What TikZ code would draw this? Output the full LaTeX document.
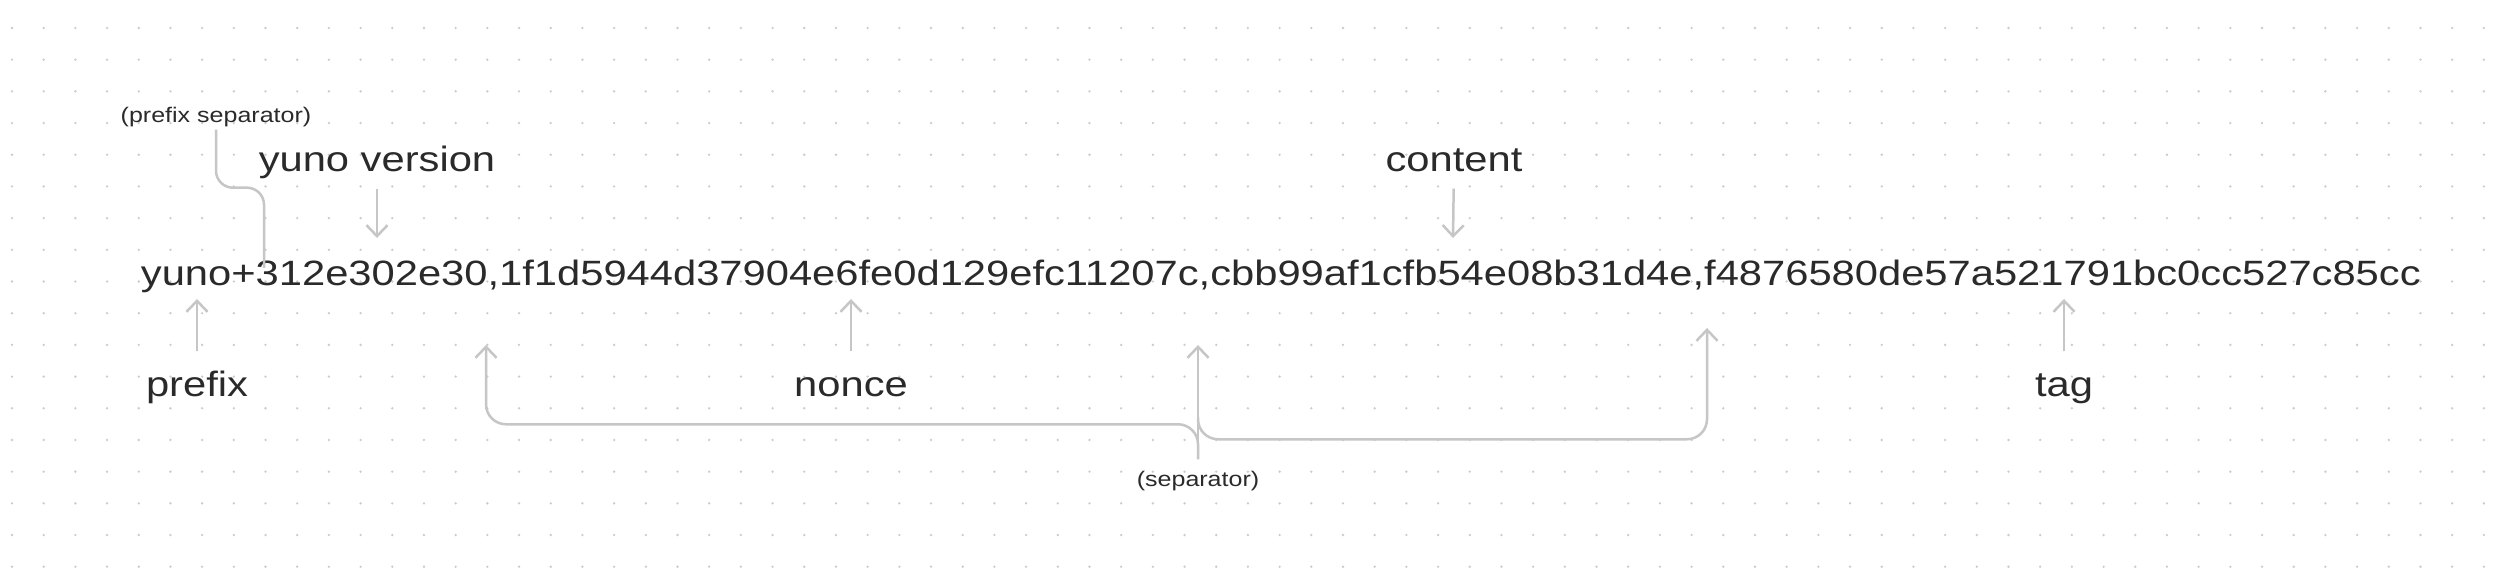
\documentclass[tikz,border=0pt]{standalone}
\usepackage{fontspec}
\setmainfont{Liberation Sans}[FakeStretch=1.186]
\usetikzlibrary{arrows.meta}
\definecolor{ink}{HTML}{2A2A2A}
\definecolor{linegray}{HTML}{C6C6C6}
\definecolor{gridgray}{HTML}{CCCCCC}
\begin{document}
\begin{tikzpicture}[x=0.01cm,y=-0.01cm,
        part/.style={text=ink,font=\fontsize{10}{12}\selectfont,text height=2.6mm,text depth=0.9mm,inner sep=0.7mm},
        lowpart/.style={part,inner ysep=1.9mm},
        note/.style={text=ink,font=\fontsize{6}{7}\selectfont,text height=1.6mm,text depth=0.5mm,inner sep=0.1mm},
        wire/.style={draw=linegray,line width=0.25mm,rounded corners=2mm},
        pointer/.style={wire,-{Straight Barb[length=1.1mm,width=2.1mm]}}]
        \fill[white] (0,0) rectangle (2504,586);
        \useasboundingbox (0,0) rectangle (2504,586);
        \foreach \i in {0,...,78}
            \foreach \j in {0,...,17}
                \fill[gridgray] (12+31.69*\i,28+31.69*\j) circle (0.13mm);
        \node[part,anchor=base] (key) at (1281,286) {yuno+312e302e30,1f1d5944d37904e6fe0d129efc11207c,cbb99af1cfb54e08b31d4e,f4876580de57a521791bc0cc527c85cc};
        \coordinate (t-plus) at (264,268);
        \coordinate (t-ver) at (377,238);
        \coordinate (t-con) at (1453,238);
        \coordinate (t-pre) at (197,299);
        \coordinate (t-non) at (851,299);
        \coordinate (t-tag) at (2064,299);
        \coordinate (t-c1) at (486,345);
        \coordinate (t-c2) at (1198,345);
        \coordinate (t-c3) at (1707,328);
        \node[note,anchor=base] (psep) at (216,123) {(prefix separator)};
        \node[part,anchor=base] (ver) at (377,172) {yuno version};
        \node[part,anchor=base] (con) at (1454,172) {content};
        \node[lowpart,anchor=base] (pre) at (197,397) {prefix};
        \node[lowpart,anchor=base] (non) at (851,397) {nonce};
        \node[lowpart,anchor=base] (tag) at (2064,397) {tag};
        \node[note,anchor=base] (sep) at (1198,487) {(separator)};
        \draw[wire,rounded corners=1.7mm] (psep.south) -- ++(0,58) -| (t-plus);
        \draw[pointer] (ver) -- (t-ver);
        \draw[pointer] (con) -- (t-con);
        \draw[pointer] (pre) -- (t-pre);
        \draw[pointer] (non) -- (t-non);
        \draw[pointer] (tag) -- (t-tag);
        \draw[pointer] ([yshift=1mm]sep.north) -- (t-c2);
        \draw[pointer] ([yshift=1mm]sep.north) -- ++(0,-35) -| (t-c1);
        \draw[pointer] ([yshift=5.2mm]sep.north) -- ++(0,22) -| (t-c3);
\end{tikzpicture}
\end{document}
